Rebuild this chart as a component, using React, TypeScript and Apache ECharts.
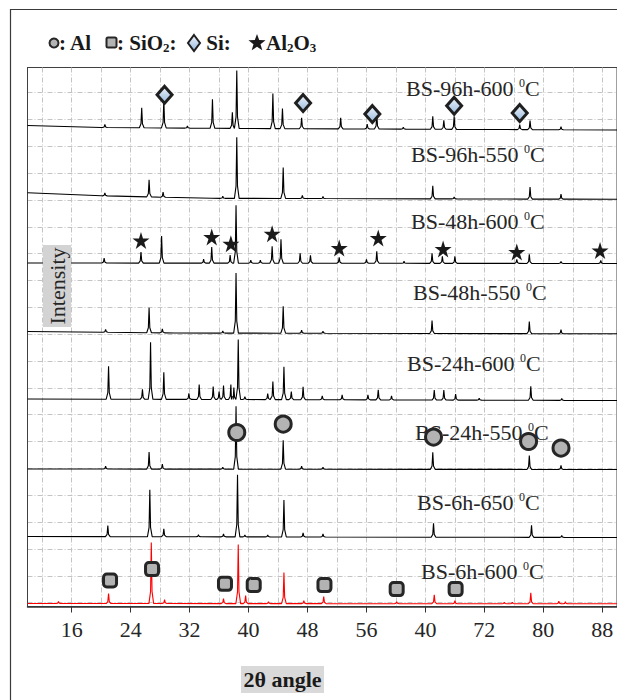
import React, { useEffect, useRef } from 'react';
import * as echarts from 'echarts';

// ---------------- data ----------------
const sampleNames = ['BS-96h-600', 'BS-96h-550', 'BS-48h-600', 'BS-48h-550', 'BS-24h-600', 'BS-24h-550', 'BS-6h-650', 'BS-6h-600'];

// baseline knots [2θ, intensity offset (a.u.)]
const base96h600 = [[10, 481], [20, 479], [40, 478], [90, 476.5]];
const base96h550 = [[10, 413.7], [20, 410.7], [35, 408.2], [90, 407.2]];
const base48h600 = [[10, 343.5], [90, 343]];
const base48h550 = [[10, 275], [30, 273.5], [90, 272.7]];
const base24h600 = [[10, 207.5], [90, 206]];
const base24h550 = [[10, 137.5], [90, 137]];
const base6h650 = [[10, 70], [90, 69]];
const base6h600 = [[10, 3], [90, 2.7]];

// peaks [2θ, height (a.u.)]
const peaks96h600 = [[20.5, 3], [25.5, 20], [28.5, 28], [31.7, 2], [35.1, 29], [37.8, 16], [38.4, 58], [43.3, 35], [44.6, 20], [47.2, 11], [52.5, 11], [56.1, 5], [57.4, 15], [61.0, 2], [65.0, 13], [66.5, 9], [67.9, 13], [76.8, 5], [78.2, 9], [82.4, 3]];
const peaks96h550 = [[20.5, 3], [26.5, 17], [28.4, 5], [36.5, 2], [38.4, 61], [44.7, 31], [47.3, 3], [50.1, 2], [65.0, 13], [67.9, 2], [78.2, 12], [82.4, 5]];
const peaks48h600 = [[20.4, 5], [25.4, 11], [28.2, 27], [33.9, 4], [35.0, 16], [37.5, 8], [38.3, 58], [40.3, 3], [41.6, 3], [43.2, 17], [44.4, 24], [47.0, 10], [48.4, 8], [52.3, 6], [56.0, 4], [57.4, 12], [61.1, 2], [64.9, 10], [66.3, 7], [68.0, 7], [76.4, 4], [78.1, 9], [82.4, 2], [87.8, 3]];
const peaks48h550 = [[20.6, 3], [26.5, 25], [28.3, 4], [36.5, 2], [38.3, 60], [44.7, 27], [47.2, 3], [50.1, 2], [64.9, 13], [78.1, 12], [82.4, 4]];
const peaks24h600 = [[21.0, 33], [25.6, 10], [26.7, 57], [28.5, 27], [31.9, 6], [33.3, 15], [35.2, 13], [36.0, 8], [36.6, 14], [37.6, 15], [38.0, 12], [38.6, 60], [39.5, 3], [42.6, 6], [43.3, 18], [44.8, 33], [45.8, 8], [47.4, 13], [50.0, 4], [52.7, 5], [56.2, 5], [57.6, 10], [59.4, 4], [65.2, 10], [66.5, 10], [68.1, 6], [71.3, 2], [78.3, 14], [82.5, 2]];
const peaks24h550 = [[20.6, 3], [26.5, 17], [28.3, 5], [36.5, 2], [38.3, 63], [44.7, 29], [47.2, 3], [50.1, 2], [65.0, 17], [78.1, 14], [82.4, 4]];
const peaks6h650 = [[20.9, 11], [26.6, 47], [28.5, 8], [33.2, 2], [36.6, 3], [38.5, 62], [39.5, 2], [42.6, 2], [44.8, 37], [47.4, 4], [50.1, 3], [65.1, 14], [78.4, 12], [82.5, 2]];
const peaks6h600 = [[14.2, 2], [21.0, 10], [26.8, 61], [28.6, 4], [36.6, 5], [38.6, 59], [39.6, 8], [42.7, 2], [44.8, 31], [47.5, 3], [50.2, 7], [60.1, 2], [65.2, 9], [68.0, 3], [74.7, 1.5], [75.8, 1.5], [78.3, 11], [82.1, 2.5], [83.0, 2]];

// phase markers [2θ, intensity offset]
const siMarkers = [[28.6, 511.7], [47.4, 503.4], [56.8, 492.4], [67.9, 500.7], [76.8, 493.4]];
const al2o3Markers = [[25.4, 366], [35.0, 369.4], [37.6, 362.7], [43.2, 372.7], [52.3, 358.4], [57.6, 368.4], [66.4, 357.4], [76.4, 354.4], [87.7, 356]];
const alMarkers = [[38.4, 174], [44.7, 182.4], [65.1, 169.4], [78.0, 165], [82.4, 158.4]];
const sio2Markers = [[21.2, 26], [26.9, 37.4], [36.8, 22.7], [40.7, 21.4], [50.3, 21.4], [60.1, 17.4], [68.1, 17.4]];

const xTickValues = [16, 24, 32, 40, 48, 56, 64, 72, 80, 88];
const xTickLabels = ['16', '24', '32', '40', '48', '56', '40', '72', '80', '88'];
const xGridValues = [12, 16, 20, 24, 28, 32, 36, 40, 44, 48, 52, 56, 60, 64, 68, 72, 76, 80, 84, 88];

// ---------------- layout / style ----------------
const baselinesList = [base96h600, base96h550, base48h600, base48h550, base24h600, base24h550, base6h650, base6h600];
const peaksList = [peaks96h600, peaks96h550, peaks48h600, peaks48h550, peaks24h600, peaks24h550, peaks6h650, peaks6h600];
const traceColors = ['#000', '#000', '#000', '#000', '#000', '#000', '#000', '#ff0000'];
const labelPos = [[406, 88], [411, 154], [411, 221], [413, 292], [407, 363], [415, 432], [417, 502], [421, 571]];

const SERIF = '"Liberation Serif", "Times New Roman", serif';

function baseAt(knots: number[][], x: number) {
  for (let i = 0; i < knots.length - 1; i++) {
    const a = knots[i], b = knots[i + 1];
    if (x >= a[0] && x <= b[0]) return a[1] + (b[1] - a[1]) * (x - a[0]) / (b[0] - a[0]);
  }
  return knots[knots.length - 1][1];
}

function buildTrace(knots: number[][], peaks: number[][]) {
  const pts: number[][] = knots.map(k => [k[0], k[1]]);
  peaks.forEach(([x, h]) => {
    const b = baseAt(knots, x);
    pts.push([x - 0.32, b], [x - 0.1, b + 0.2 * h], [x, b + h], [x + 0.1, b + 0.2 * h], [x + 0.32, b]);
  });
  pts.sort((p, q) => p[0] - q[0]);
  return pts;
}

function starPoints(cx: number, cy: number, R: number, r: number) {
  const pts: number[][] = [];
  for (let i = 0; i < 10; i++) {
    const ang = -Math.PI / 2 + i * Math.PI / 5;
    const rad = i % 2 === 0 ? R : r;
    pts.push([cx + rad * Math.cos(ang), cy + rad * Math.sin(ang)]);
  }
  return pts;
}

const STAR_PATH = 'path://M50,0 L61.2,34.5 L97.6,34.5 L68.2,55.9 L79.4,90.5 L50,69.1 L20.6,90.5 L31.8,55.9 L2.4,34.5 L38.8,34.5 Z';

export default function App() {
  const ref = useRef<HTMLDivElement>(null);

  useEffect(() => {
    if (!ref.current) return;
    const chart = echarts.init(ref.current, undefined, { renderer: 'svg' });

    const yGridValues: number[] = [];
    for (let k = 0; k < 20; k++) yGridValues.push(514 - 26.85 * k);

    const traceSeries = baselinesList.map((b, i) => ({
      type: 'line',
      name: sampleNames[i],
      data: buildTrace(b, peaksList[i]),
      showSymbol: false,
      symbol: 'none',
      lineStyle: { color: traceColors[i], width: 1.1 },
      z: 3,
    }));

    const markerBase = { type: 'scatter', z: 5 };
    const grayFill = '#b3b3b3';
    const darkBorder = '#262626';
    const siFill = () => new echarts.graphic.LinearGradient(0, 0, 0, 1, [{ offset: 0, color: '#eef4fb' }, { offset: 1, color: '#97b9de' }]);

    const markerSeries = [
      {
        ...markerBase, name: 'Si', data: siMarkers, symbol: 'diamond', symbolSize: [15, 17],
        itemStyle: { color: siFill(), borderColor: '#1f1f1f', borderWidth: 3, opacity: 1 },
      },
      {
        ...markerBase, name: 'Al2O3', data: al2o3Markers, symbol: STAR_PATH, symbolSize: 17,
        itemStyle: { color: '#1a1a1a', opacity: 1 },
      },
      {
        ...markerBase, name: 'Al', data: alMarkers, symbol: 'circle', symbolSize: 16,
        itemStyle: { color: grayFill, borderColor: darkBorder, borderWidth: 3, opacity: 1 },
      },
      {
        ...markerBase, name: 'SiO2', data: sio2Markers, symbol: 'roundRect', symbolSize: 13,
        itemStyle: { color: grayFill, borderColor: darkBorder, borderWidth: 3, opacity: 1 },
      },
    ];

    const labelGraphics = sampleNames.map((n, i) => ({
      type: 'text',
      x: labelPos[i][0],
      y: labelPos[i][1],
      z: 1,
      style: {
        text: `${n} {sup|0}C`,
        fontSize: 22,
        fontFamily: SERIF,
        lineHeight: 22,
        fill: '#262626',
        textFill: '#262626',
        textAlign: 'left',
        textVerticalAlign: 'middle',
        align: 'left',
        verticalAlign: 'middle',
        rich: {
          sup: { fontSize: 12, lineHeight: 14, verticalAlign: 'top', fontFamily: SERIF, fill: '#262626', textFill: '#262626' },
        },
      },
    }));

    const boldText = (x: number, y: number, text: string, rich?: any) => ({
      type: 'text', x, y, z: 10,
      style: {
        text, fontSize: 21, fontWeight: 'bold', fontFamily: SERIF, lineHeight: 21,
        fill: '#1a1a1a', textFill: '#1a1a1a',
        textAlign: 'left', textVerticalAlign: 'middle', align: 'left', verticalAlign: 'middle',
        rich,
      },
    });
    const subRich = {
      m: { fontSize: 21, fontWeight: 'bold', fontFamily: SERIF, lineHeight: 21, fill: '#1a1a1a', textFill: '#1a1a1a' },
      s: { fontSize: 13, fontWeight: 'bold', fontFamily: SERIF, lineHeight: 11, verticalAlign: 'bottom', fill: '#1a1a1a', textFill: '#1a1a1a' },
    };

    const legendGraphics = [
      { type: 'circle', z: 10, shape: { cx: 54, cy: 43, r: 4.5 }, style: { fill: grayFill, stroke: darkBorder, lineWidth: 2 } },
      boldText(59, 43, ': Al'),
      { type: 'rect', z: 10, shape: { x: 106.5, y: 37.5, width: 10, height: 10, r: 1.5 }, style: { fill: grayFill, stroke: darkBorder, lineWidth: 2 } },
      boldText(117, 43, '{m|: SiO}{s|2}{m|:}', subRich),
      {
        type: 'polygon', z: 10, shape: { points: [[194, 35], [200, 43], [194, 51], [188, 43]] },
        style: { fill: siFill(), stroke: '#1f1f1f', lineWidth: 2 },
      },
      boldText(201, 43, ' Si:'),
      { type: 'polygon', z: 10, shape: { points: starPoints(257, 43, 9, 3.7) }, style: { fill: '#1a1a1a' } },
      boldText(266, 43, '{m|Al}{s|2}{m|O}{s|3}', subRich),
    ];

    const option: any = {
      animation: false,
      backgroundColor: '#ffffff',
      grid: {
        left: 27.5, top: 67.5, width: 593, height: 539,
        show: true, borderColor: '#404040', borderWidth: 1, backgroundColor: 'transparent',
      },
      xAxis: [
        {
          type: 'value', min: 10, max: 90, position: 'bottom',
          axisLine: { show: true, onZero: false, lineStyle: { color: '#333', width: 1.5 } },
          axisTick: { show: true, inside: false, length: 6, customValues: xTickValues, lineStyle: { color: '#333', width: 1 } },
          axisLabel: {
            show: true, customValues: xTickValues, margin: 12, fontSize: 22, fontFamily: SERIF, color: '#262626',
            formatter: (v: number) => { const i = xTickValues.indexOf(v); return i >= 0 ? xTickLabels[i] : ''; },
          },
          splitLine: { show: false },
        },
        {
          type: 'value', min: 10, max: 90, position: 'bottom',
          axisLine: { show: false },
          axisTick: { show: false, customValues: xGridValues },
          axisLabel: { show: false },
          splitLine: { show: true, lineStyle: { color: '#c4c4c4', width: 1, type: [5, 2, 1, 2] } },
        },
      ],
      yAxis: {
        type: 'value', min: 0, max: 539,
        axisLine: { show: true, onZero: false, lineStyle: { color: '#404040', width: 1 } },
        axisTick: { show: false, customValues: yGridValues },
        axisLabel: { show: false },
        splitLine: { show: true, lineStyle: { color: '#c4c4c4', width: 1, type: [5, 2, 1, 2] } },
      },
      series: [...traceSeries, ...markerSeries],
      graphic: [
        { type: 'rect', z: 0, shape: { x: 10.5, y: 9.5, width: 800, height: 900 }, style: { fill: 'none', stroke: '#3a3a3a', lineWidth: 1.2 } },
        ...labelGraphics,
        ...legendGraphics,
        { type: 'rect', z: 10, shape: { x: 43, y: 245, width: 28, height: 82 }, style: { fill: '#d3d3d3' } },
        {
          type: 'text', z: 11, x: 57, y: 286, rotation: Math.PI / 2,
          style: {
            text: 'Intensity', fontSize: 22, fontFamily: SERIF, fill: '#262626', textFill: '#262626',
            textAlign: 'center', textVerticalAlign: 'middle', align: 'center', verticalAlign: 'middle',
          },
        },
        { type: 'rect', z: 10, shape: { x: 241, y: 666, width: 83, height: 27 }, style: { fill: '#d9d9d9' } },
        {
          type: 'text', z: 11, x: 282.5, y: 679.5,
          style: {
            text: '2θ angle', fontSize: 22, fontWeight: 'bold', fontFamily: SERIF, fill: '#1a1a1a', textFill: '#1a1a1a',
            textAlign: 'center', textVerticalAlign: 'middle', align: 'center', verticalAlign: 'middle',
          },
        },
      ],
    };

    chart.setOption(option);
    return () => chart.dispose();
  }, []);

  return <div ref={ref} style={{ position: 'absolute', left: 0, top: 0, width: 617, height: 700, overflow: 'hidden' }} />;
}
